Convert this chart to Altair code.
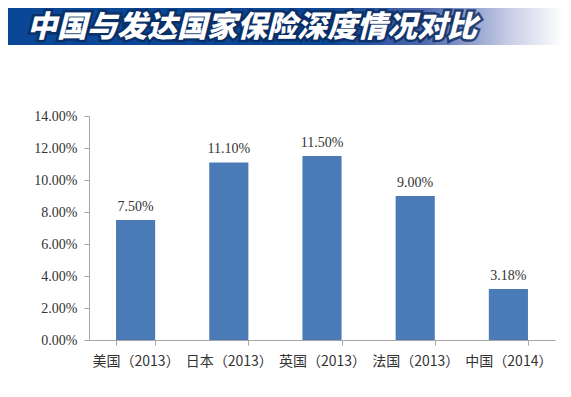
import altair as alt
import pandas as pd

categories = ["美国（2013）", "日本（2013）", "英国（2013）", "法国（2013）", "中国（2014）"]
values = [0.075, 0.111, 0.115, 0.090, 0.0318]
title_text = "中国与发达国家保险深度情况对比"
y_ticks = [0, 0.02, 0.04, 0.06, 0.08, 0.10, 0.12, 0.14]

df = pd.DataFrame({"cat": categories, "val": values})
one = pd.DataFrame({"t": [title_text]})

W, H = 466, 224
PL, PT, PR, PB = 81, 108, 8, 40

x = alt.X("cat:N", sort=None, title=None,
          scale=alt.Scale(paddingInner=0.58, paddingOuter=0.29),
          axis=alt.Axis(labelAngle=0, tickBand="extent", tickSize=5,
                        labelPadding=9, labelFont="Noto Sans CJK SC",
                        labelFontSize=14, labelColor="#333333", labelOverlap=False,
                        domainColor="#a6a6a6", tickColor="#a6a6a6", grid=False))
y = alt.Y("val:Q", title=None,
          scale=alt.Scale(domain=[0, 0.14], nice=False),
          axis=alt.Axis(values=y_ticks, format=".2%", grid=False, tickSize=5,
                        labelPadding=7, labelFont="Liberation Serif",
                        labelFontSize=14, labelColor="#333333", labelOverlap=False,
                        domainColor="#a6a6a6", tickColor="#a6a6a6"))

bars = alt.Chart(df).mark_bar(color="#4a7bb7").encode(x=x, y=y)
labels = alt.Chart(df).mark_text(baseline="bottom", dy=-6, font="Liberation Serif",
                                 fontSize=14, color="#333333").encode(
    x=x, y=y, text=alt.Text("val:Q", format=".2%"))

grad = alt.LinearGradient(
    gradient="linear", x1=0, x2=1, y1=0, y2=0,
    stops=[alt.GradientStop(offset=0, color="#0a4796"),
           alt.GradientStop(offset=0.58, color="#0c4795"),
           alt.GradientStop(offset=0.75, color="#4f68ad"),
           alt.GradientStop(offset=0.9, color="#c5cbe5"),
           alt.GradientStop(offset=1, color="#ffffff")])
banner = alt.Chart(one).mark_rect(color=grad).encode(
    x=alt.value(-PL), x2=alt.value(W + PR), y=alt.value(-PT), y2=alt.value(-PT + 37))

TX, TY, FS = -62, -PT + 20, 30
title_shadow = alt.Chart(one).mark_text(
    align="left", baseline="middle", font="Noto Sans CJK SC", fontSize=FS,
    fontWeight=900, fontStyle="italic", color="#0a2a5e", stroke="#0a2a5e",
    strokeWidth=5, strokeOpacity=0.8).encode(
    x=alt.value(TX), y=alt.value(TY), text="t:N")
title_main = alt.Chart(one).mark_text(
    align="left", baseline="middle", font="Noto Sans CJK SC", fontSize=FS,
    fontWeight=900, fontStyle="italic", color="#ffffff").encode(
    x=alt.value(TX), y=alt.value(TY), text="t:N")

chart = alt.layer(banner, title_shadow, title_main, bars, labels).properties(
    width=W, height=H,
    autosize=alt.AutoSizeParams(type="none"),
    padding={"left": PL, "top": PT, "right": PR, "bottom": PB},
).configure(background="white").configure_view(strokeWidth=0)

chart.save("out.html", embed_options={"renderer": "svg", "actions": False})
